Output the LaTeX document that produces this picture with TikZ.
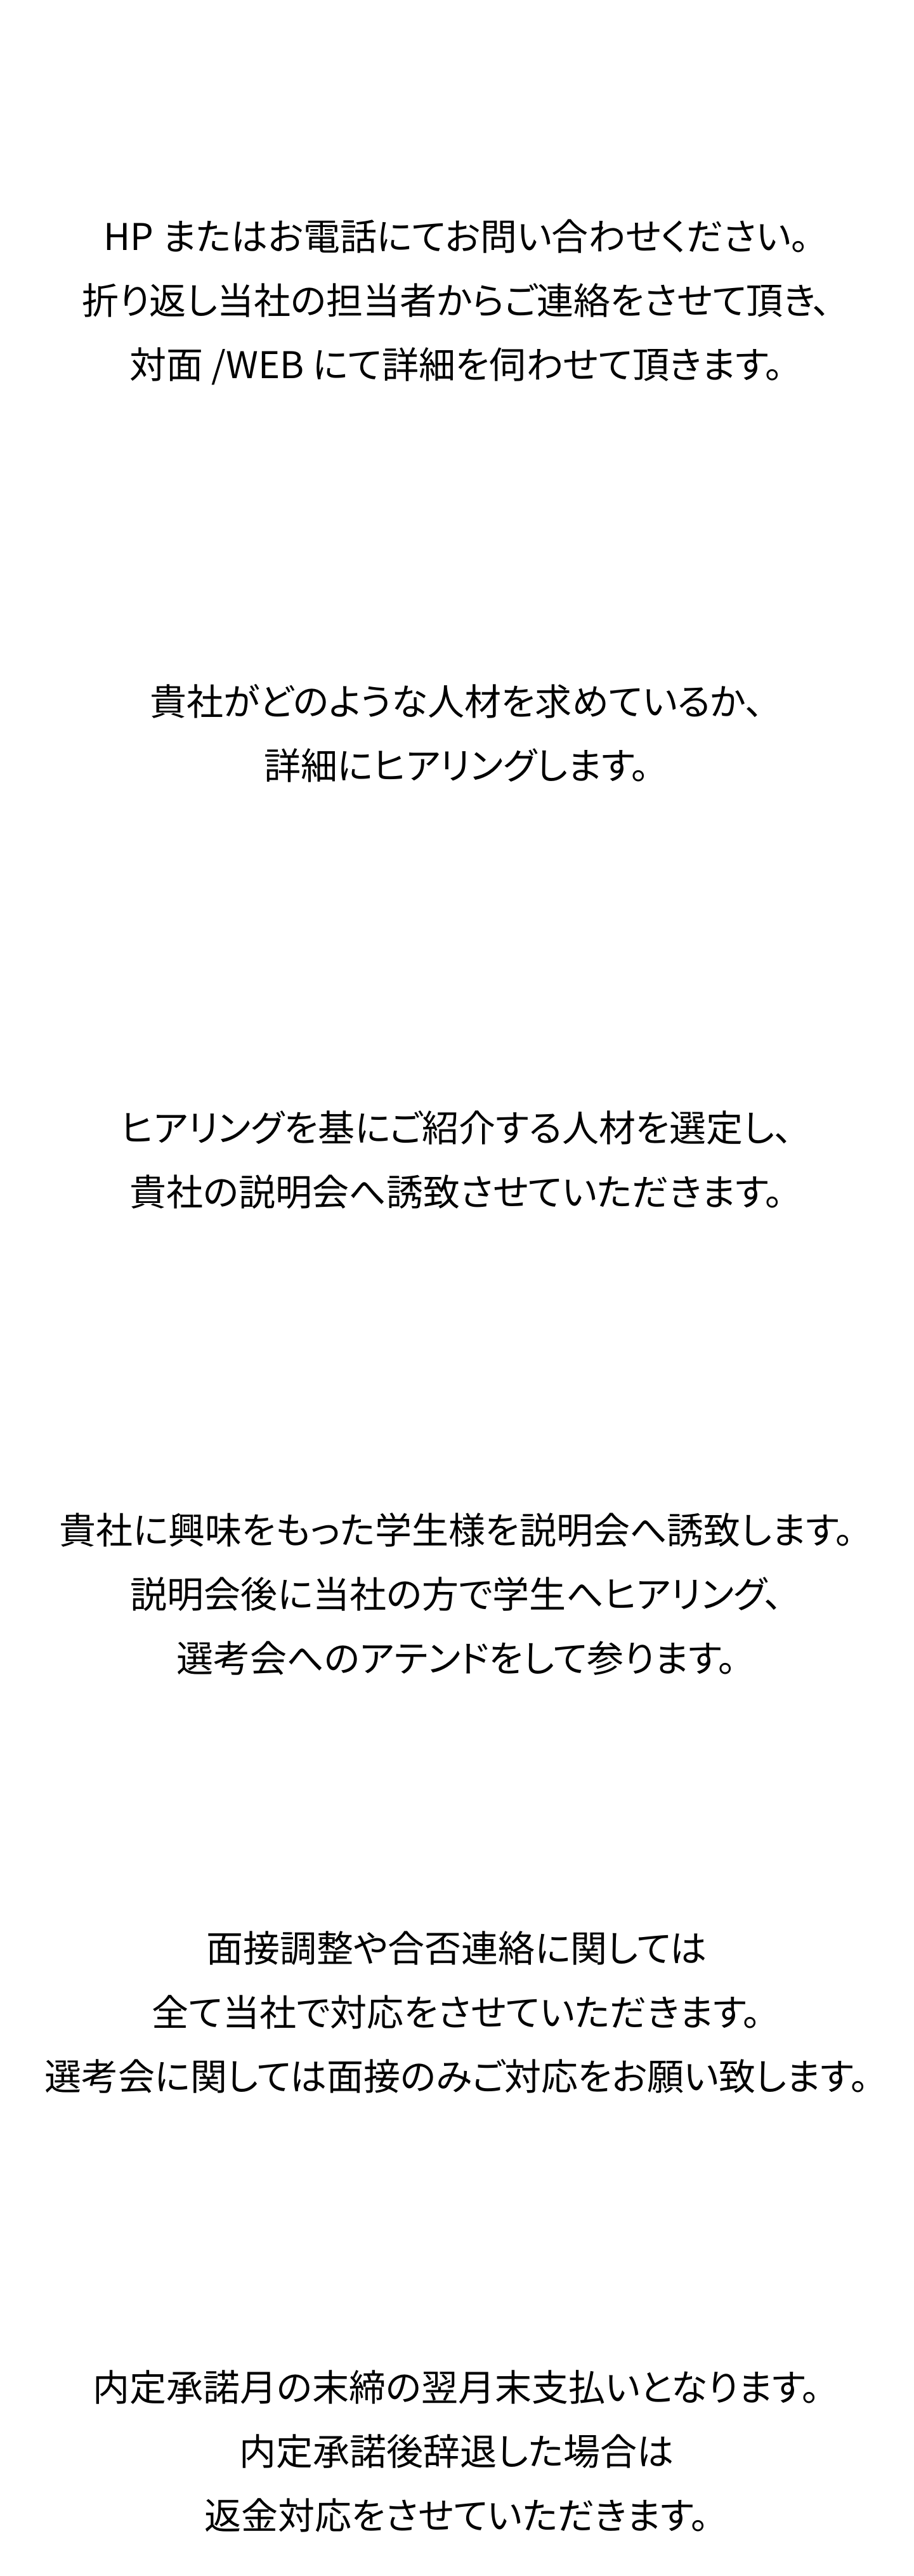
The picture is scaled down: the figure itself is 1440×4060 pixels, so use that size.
\documentclass[tikz,border=0pt]{standalone}
\usepackage{fontspec}
\setmainfont[RawFeature=+palt]{Noto Sans CJK JP}
\tikzset{
  flowtext/.style={align=center,font=\fontsize{58pt}{101pt}\selectfont,inner sep=0pt}
}
\begin{document}
\begin{tikzpicture}[x=1pt,y=-1pt]
	\useasboundingbox (0,0) rectangle (1440,4060);
	%\draw[step=100,gray!30] (0,0) grid (1440,4060); %Hilfsgitter
	\node[flowtext] (kontakt) at (720,476) {HP またはお電話にてお問い合わせください。\\折り返し当社の担当者からご連絡をさせて頂き、\\対面 /WEB にて詳細を伺わせて頂きます。};
	\node[flowtext] (hearing) at (720,1156) {貴社がどのような人材を求めているか、\\詳細にヒアリングします。};
	\node[flowtext] (auswahl) at (720,1828) {ヒアリングを基にご紹介する人材を選定し、\\貴社の説明会へ誘致させていただきます。};
	\node[flowtext] (einladung) at (720,2512) {貴社に興味をもった学生様を説明会へ誘致します。\\説明会後に当社の方で学生へヒアリング、\\選考会へのアテンドをして参ります。};
	\node[flowtext] (interview) at (720,3172) {面接調整や合否連絡に関しては\\全て当社で対応をさせていただきます。\\選考会に関しては面接のみご対応をお願い致します。};
	\node[flowtext] (zahlung) at (720,3863) {内定承諾月の末締の翌月末支払いとなります。\\内定承諾後辞退した場合は\\返金対応をさせていただきます。};
\end{tikzpicture}
\end{document}
